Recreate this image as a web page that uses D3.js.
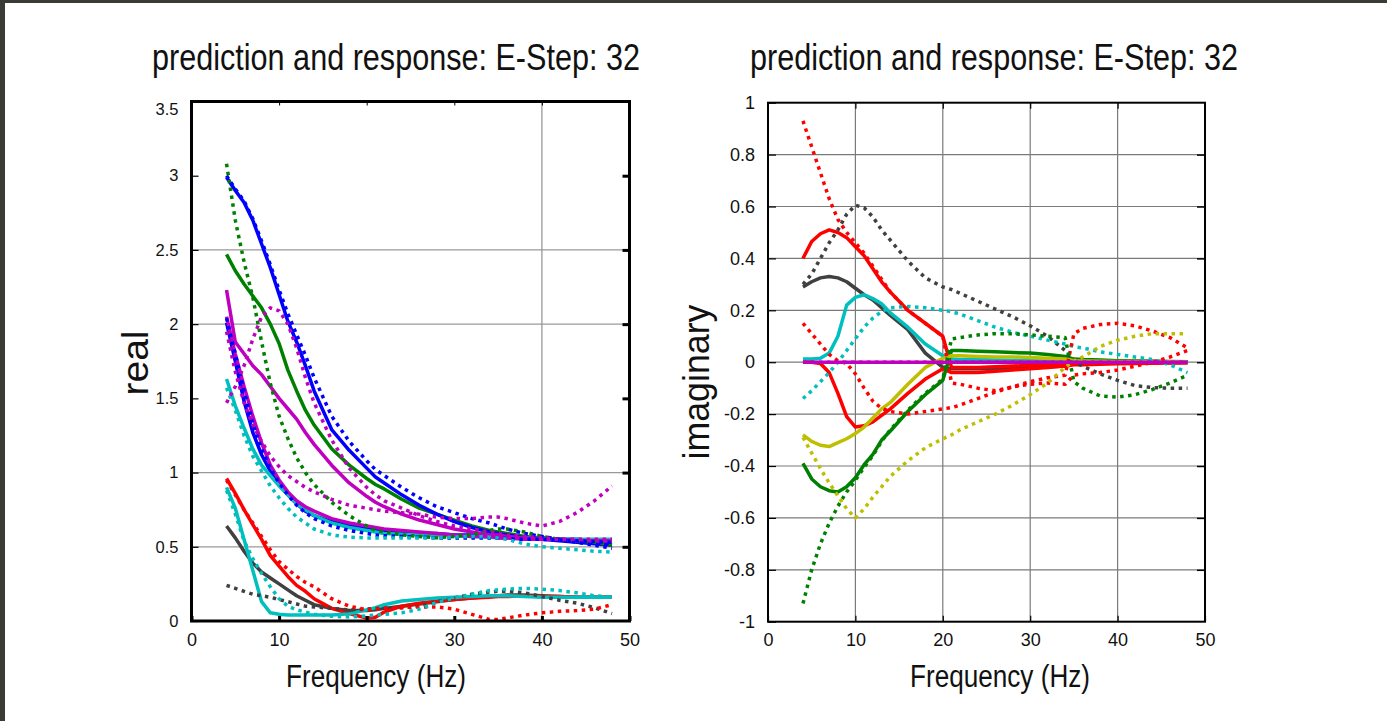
<!DOCTYPE html>
<html>
<head>
<meta charset="utf-8">
<script src="https://cdn.jsdelivr.net/npm/d3@7"></script>
<style>
  html, body { margin: 0; padding: 0; background: #fff; }
  svg { display: block; }
</style>
</head>
<body>
<svg id="fig" width="1387" height="721"></svg>
<script>
// Frequency samples (Hz) shared by every curve
const freq = [4,5,6,7,8,9,10,11,12,13,14,16,18,20,21,22,24,26,28,30,32,34,35,36,38,40,42,44,46,48];

// ---- real part: prediction (solid) and response (dotted) ----
const reBlueFitA  = [2.99,2.90,2.82,2.70,2.54,2.38,2.20,2.02,1.88,1.72,1.55,1.29,1.15,1.03,0.97,0.93,0.85,0.78,0.72,0.67,0.63,0.60,0.59,0.58,0.56,0.55,0.54,0.53,0.52,0.51];
const reBlueObsA  = [3.00,2.91,2.83,2.71,2.56,2.40,2.23,2.07,1.93,1.79,1.64,1.38,1.21,1.08,1.02,0.98,0.90,0.83,0.77,0.73,0.69,0.66,0.64,0.62,0.59,0.57,0.55,0.53,0.51,0.49];
const reGreenFit  = [2.47,2.36,2.27,2.19,2.11,2.00,1.87,1.69,1.55,1.42,1.32,1.16,1.05,0.96,0.92,0.89,0.82,0.76,0.72,0.68,0.64,0.61,0.60,0.59,0.57,0.56,0.55,0.54,0.53,0.52];
const reGreenObs  = [3.08,2.70,2.42,2.18,1.88,1.60,1.38,1.23,1.10,1.00,0.92,0.80,0.71,0.64,0.61,0.60,0.58,0.57,0.56,0.57,0.58,0.61,0.62,0.62,0.60,0.57,0.55,0.54,0.53,0.51];
const reMagFitA   = [2.23,1.88,1.80,1.72,1.66,1.58,1.50,1.43,1.36,1.27,1.19,1.05,0.93,0.84,0.80,0.77,0.72,0.68,0.65,0.62,0.60,0.58,0.58,0.57,0.56,0.55,0.55,0.54,0.54,0.54];
const reMagFitB   = [2.05,1.80,1.58,1.38,1.20,1.05,0.95,0.87,0.81,0.77,0.74,0.69,0.66,0.64,0.63,0.62,0.61,0.60,0.59,0.58,0.57,0.57,0.56,0.56,0.55,0.55,0.55,0.54,0.54,0.54];
const reMagObsA   = [1.47,1.58,1.72,1.90,2.05,2.11,2.09,2.00,1.84,1.64,1.47,1.22,1.03,0.90,0.85,0.81,0.76,0.71,0.67,0.64,0.62,0.60,0.59,0.58,0.57,0.56,0.55,0.55,0.55,0.55];
const reMagObsB   = [1.95,1.68,1.47,1.32,1.21,1.11,1.04,0.98,0.94,0.90,0.87,0.82,0.78,0.76,0.75,0.74,0.73,0.72,0.70,0.69,0.69,0.70,0.70,0.69,0.66,0.64,0.67,0.73,0.81,0.91];
const reCyanFitA  = [1.63,1.45,1.30,1.16,1.05,0.98,0.91,0.85,0.79,0.75,0.71,0.66,0.63,0.61,0.60,0.59,0.585,0.58,0.58,0.575,0.57,0.565,0.56,0.56,0.56,0.555,0.55,0.55,0.55,0.55];
const reCyanObsA  = [1.57,1.42,1.25,1.11,1.01,0.91,0.83,0.76,0.70,0.66,0.62,0.58,0.565,0.56,0.56,0.56,0.56,0.56,0.56,0.565,0.57,0.565,0.56,0.55,0.52,0.50,0.49,0.48,0.47,0.465];
const reBlueFitB  = [2.01,1.75,1.48,1.27,1.12,1.01,0.92,0.85,0.79,0.74,0.71,0.67,0.64,0.63,0.62,0.61,0.60,0.59,0.59,0.58,0.58,0.57,0.57,0.57,0.56,0.56,0.55,0.55,0.54,0.54];
const reBlueObsB  = [2.04,1.80,1.55,1.33,1.16,1.03,0.93,0.85,0.78,0.73,0.69,0.64,0.61,0.59,0.58,0.575,0.57,0.565,0.56,0.56,0.56,0.56,0.56,0.555,0.55,0.55,0.545,0.54,0.535,0.53];
const reRedFit    = [0.96,0.86,0.75,0.65,0.55,0.44,0.37,0.30,0.24,0.20,0.15,0.085,0.05,0.02,0.025,0.06,0.10,0.12,0.135,0.145,0.155,0.16,0.165,0.165,0.17,0.165,0.165,0.16,0.16,0.16];
const reRedObs    = [0.95,0.85,0.75,0.66,0.57,0.48,0.40,0.35,0.30,0.26,0.23,0.15,0.10,0.075,0.08,0.085,0.09,0.095,0.095,0.08,0.045,0.01,0.01,0.02,0.04,0.055,0.065,0.07,0.08,0.11];
const reDarkFit   = [0.64,0.56,0.47,0.39,0.33,0.29,0.25,0.21,0.17,0.14,0.11,0.085,0.07,0.07,0.075,0.085,0.10,0.115,0.13,0.145,0.155,0.165,0.17,0.175,0.175,0.17,0.165,0.16,0.16,0.16];
const reDarkObs   = [0.24,0.22,0.20,0.18,0.17,0.16,0.145,0.13,0.115,0.10,0.095,0.085,0.075,0.08,0.085,0.088,0.09,0.10,0.13,0.155,0.18,0.195,0.20,0.20,0.19,0.165,0.14,0.12,0.09,0.05];
const reCyanFitB  = [0.90,0.76,0.55,0.34,0.13,0.055,0.045,0.04,0.04,0.04,0.04,0.04,0.048,0.075,0.09,0.11,0.135,0.145,0.155,0.16,0.165,0.17,0.17,0.17,0.165,0.16,0.16,0.16,0.16,0.16];
const reCyanObsB  = [0.88,0.72,0.54,0.42,0.32,0.23,0.15,0.10,0.075,0.06,0.045,0.032,0.027,0.035,0.04,0.045,0.055,0.08,0.125,0.155,0.18,0.205,0.21,0.215,0.22,0.215,0.205,0.19,0.17,0.16];

// ---- imaginary part: prediction (solid) and response (dotted) ----
const imRedFitA   = [0.40,0.465,0.495,0.51,0.50,0.48,0.445,0.41,0.36,0.31,0.27,0.20,0.15,0.10,-0.02,-0.02,-0.02,-0.018,-0.015,-0.012,-0.01,-0.008,0.008,0.008,0.006,0.005,0.004,0.003,0.002,0.002];
const imRedObsA   = [0.93,0.83,0.73,0.63,0.55,0.50,0.46,0.42,0.37,0.32,0.27,0.20,0.15,0.10,-0.08,-0.085,-0.10,-0.11,-0.095,-0.075,-0.06,-0.05,0.11,0.13,0.145,0.15,0.14,0.12,0.095,0.055];
const imRedFitB   = [0.0,0.0,-0.005,-0.04,-0.12,-0.21,-0.25,-0.245,-0.23,-0.205,-0.18,-0.12,-0.065,-0.025,-0.04,-0.04,-0.04,-0.035,-0.03,-0.025,-0.02,-0.015,-0.01,-0.01,-0.008,-0.006,-0.005,-0.004,-0.003,-0.002];
const imRedObsB   = [0.15,0.11,0.07,0.03,0.005,-0.005,-0.045,-0.10,-0.15,-0.178,-0.19,-0.20,-0.19,-0.18,-0.175,-0.165,-0.14,-0.115,-0.095,-0.085,-0.08,-0.085,-0.05,-0.045,-0.04,-0.03,-0.015,0.0,0.02,0.045];
const imDarkFit   = [0.29,0.31,0.325,0.33,0.325,0.31,0.285,0.26,0.24,0.21,0.18,0.125,0.035,-0.02,-0.025,-0.025,-0.025,-0.025,-0.022,-0.02,-0.018,-0.015,-0.005,-0.005,-0.004,-0.003,-0.003,-0.002,-0.002,-0.002];
const imDarkObs   = [0.30,0.34,0.40,0.46,0.51,0.57,0.605,0.595,0.56,0.51,0.47,0.39,0.325,0.29,0.28,0.265,0.235,0.205,0.175,0.14,0.10,0.045,0.0,-0.015,-0.045,-0.07,-0.09,-0.098,-0.10,-0.10];
const imCyanFit   = [0.012,0.012,0.015,0.035,0.10,0.22,0.25,0.26,0.245,0.225,0.19,0.135,0.07,0.025,0.012,0.01,0.01,0.008,0.007,0.006,0.005,0.004,0.003,0.003,0.002,0.002,0.002,0.001,0.001,0.001];
const imCyanObs   = [-0.14,-0.11,-0.075,-0.04,0.0,0.045,0.09,0.135,0.17,0.195,0.21,0.215,0.21,0.20,0.195,0.185,0.16,0.135,0.115,0.10,0.085,0.07,0.06,0.055,0.04,0.03,0.02,0.01,-0.01,-0.04];
const imGreenFit  = [-0.39,-0.45,-0.48,-0.495,-0.50,-0.48,-0.445,-0.395,-0.355,-0.30,-0.265,-0.19,-0.125,-0.07,0.045,0.045,0.042,0.04,0.037,0.035,0.03,0.022,0.012,0.01,0.008,0.006,0.005,0.004,0.003,0.002];
const imGreenObs  = [-0.93,-0.80,-0.70,-0.62,-0.555,-0.50,-0.455,-0.405,-0.36,-0.305,-0.26,-0.185,-0.12,-0.065,0.09,0.095,0.105,0.11,0.11,0.105,0.10,0.095,-0.075,-0.10,-0.13,-0.135,-0.125,-0.105,-0.08,-0.05];
const imYellowFit = [-0.28,-0.305,-0.32,-0.325,-0.31,-0.295,-0.275,-0.25,-0.215,-0.18,-0.155,-0.085,-0.02,0.015,0.025,0.025,0.022,0.02,0.02,0.018,0.015,0.012,0.006,0.005,0.004,0.003,0.003,0.002,0.002,0.001];
const imYellowObs = [-0.29,-0.35,-0.41,-0.465,-0.515,-0.565,-0.60,-0.565,-0.52,-0.48,-0.44,-0.38,-0.33,-0.295,-0.28,-0.26,-0.23,-0.20,-0.165,-0.125,-0.08,-0.02,0.005,0.02,0.06,0.085,0.10,0.11,0.11,0.11];
const imMagFit    = [0,0,0,0,0,0,0,0,0,0,0,0,0,0,0,0,0,0,0,0,0,0,0,0,0,0,0,0,0,0];
const imMagObs    = [0,0,0,0,0,0,0,0,0,0,0,0,0,0,0,0,0,0,0,0,0,0,0,0,0,0,0,0,0,0];

// ---- tick values ----
const xTicks = [0,10,20,30,40,50];
const reTicks = [0,0.5,1,1.5,2,2.5,3,3.5];
const imTicks = [-1,-0.8,-0.6,-0.4,-0.2,0,0.2,0.4,0.6,0.8,1];
const reGridX = [40];
const reGridY = [0.5,1,2,2.5];
const imGridX = [10,20,30,40];
const imGridY = [-0.8,-0.6,-0.4,-0.2,0,0.2,0.4,0.6,0.8];

const COL = { b:'#0000ff', g:'#008000', r:'#ff0000', c:'#00bfbf', m:'#bf00bf', y:'#bfbf00', k:'#404040' };
const FONT = '"Liberation Sans Narrow", "Arial Narrow", "Liberation Sans", Arial, sans-serif';
const FONT_WIDE = '"Liberation Sans", Arial, sans-serif';

const svg = d3.select('#fig');
svg.append('rect').attr('width', 1387).attr('height', 721).attr('fill', '#fff');
// dark window edge
svg.append('rect').attr('x', 0).attr('y', 0).attr('width', 1387).attr('height', 3).attr('fill', '#3b3b35');
svg.append('rect').attr('x', 0).attr('y', 0).attr('width', 5).attr('height', 721).attr('fill', '#3b3b35');

function drawPanel(cfg) {
  const g = svg.append('g');
  const x = d3.scaleLinear().domain([0, 50]).range([cfg.left, cfg.right]);
  const y = d3.scaleLinear().domain(cfg.yDomain).range([cfg.bottom, cfg.top]);

  // grid
  g.append('g').selectAll('line').data(cfg.gridX).join('line')
    .attr('x1', d => x(d)).attr('x2', d => x(d))
    .attr('y1', cfg.top).attr('y2', cfg.bottom)
    .attr('stroke', cfg.gridColor).attr('stroke-width', cfg.gridWidth);
  g.append('g').selectAll('line').data(cfg.gridY).join('line')
    .attr('x1', cfg.left).attr('x2', cfg.right)
    .attr('y1', d => y(d)).attr('y2', d => y(d))
    .attr('stroke', cfg.gridColor).attr('stroke-width', cfg.gridWidth);

  // curves
  const line = d3.line().x((d, i) => x(freq[i])).y(d => y(d));
  g.append('g').selectAll('path').data(cfg.series).join('path')
    .attr('d', s => line(s.v))
    .attr('fill', 'none')
    .attr('stroke', s => s.c)
    .attr('stroke-width', 3.5)
    .attr('stroke-linejoin', 'round')
    .attr('stroke-dasharray', s => s.dot ? '3.5 4.5' : null);

  // axes
  const styleAxis = (sel, w) => {
    sel.select('.domain').remove();
    sel.selectAll('.tick line').attr('stroke', '#000').attr('stroke-width', w);
    sel.attr('font-family', FONT).selectAll('text').attr('fill', '#111');
  };
  const ax = cfg.axes;
  g.append('g').attr('transform', `translate(0,${cfg.bottom})`)
    .call(d3.axisBottom(x).tickValues(xTicks).tickFormat(String)
      .tickSizeInner(-ax.bottomLen).tickSizeOuter(0).tickPadding(12))
    .call(s => styleAxis(s, ax.bottomW))
    .attr('font-size', 18);
  g.append('g').attr('transform', `translate(0,${cfg.top})`)
    .call(d3.axisTop(x).tickValues(xTicks.slice(1, -1)).tickFormat('')
      .tickSizeInner(-ax.topLen).tickSizeOuter(0))
    .call(s => styleAxis(s, ax.topW));
  const yl = g.append('g').attr('transform', `translate(${cfg.left},0)`)
    .call(d3.axisLeft(y).tickValues(cfg.yTicks).tickFormat(String)
      .tickSizeInner(-ax.leftLen).tickSizeOuter(0).tickPadding(ax.labelPad))
    .call(s => styleAxis(s, ax.leftW))
    .attr('font-size', ax.yFont);
  if (cfg.topLabelShift) {
    yl.selectAll('.tick').filter(d => d === cfg.yDomain[1]).select('text').attr('y', cfg.topLabelShift);
  }
  g.append('g').attr('transform', `translate(${cfg.right},0)`)
    .call(d3.axisRight(y).tickValues(cfg.yTicks.slice(1, -1)).tickFormat('')
      .tickSizeInner(-ax.rightLen).tickSizeOuter(0))
    .call(s => styleAxis(s, ax.rightW));

  // box
  g.append('rect')
    .attr('x', cfg.left).attr('y', cfg.top)
    .attr('width', cfg.right - cfg.left).attr('height', cfg.bottom - cfg.top)
    .attr('fill', 'none').attr('stroke', '#000').attr('stroke-width', cfg.boxW);

  // title and axis labels
  g.append('text').attr('x', cfg.titleX).attr('y', 70)
    .attr('font-family', FONT).attr('font-size', 36).attr('fill', '#111')
    .attr('textLength', 488).attr('lengthAdjust', 'spacingAndGlyphs')
    .text('prediction and response: E-Step: 32');
  g.append('text').attr('x', cfg.xLabelX).attr('y', 687)
    .attr('text-anchor', 'middle')
    .attr('font-family', FONT).attr('font-size', 31).attr('fill', '#111')
    .attr('textLength', 180).attr('lengthAdjust', 'spacingAndGlyphs')
    .text('Frequency (Hz)');
  g.append('text')
    .attr('transform', `translate(${cfg.yLabel.x},${cfg.yLabel.y}) rotate(-90)`)
    .attr('text-anchor', 'middle')
    .attr('font-family', FONT_WIDE).attr('font-size', cfg.yLabel.size).attr('fill', '#111')
    .attr('textLength', cfg.yLabel.len).attr('lengthAdjust', 'spacingAndGlyphs')
    .text(cfg.yLabel.text);
}

drawPanel({
  left: 191.5, right: 629.5, top: 101.5, bottom: 621,
  yDomain: [0, 3.5], yTicks: reTicks,
  gridX: reGridX, gridY: reGridY, gridColor: '#999', gridWidth: 1.3,
  boxW: 3, topLabelShift: 8,
  axes: { bottomLen: 5, bottomW: 3, topLen: 4, topW: 1, leftLen: 7, leftW: 1.2,
          rightLen: 7, rightW: 3, labelPad: 13, yFont: 16.5 },
  titleX: 152, xLabelX: 376,
  yLabel: { x: 148, y: 363, size: 37, len: 65, text: 'real' },
  series: [
    { v: reDarkFit,   c: COL.k }, { v: reRedFit,   c: COL.r }, { v: reCyanFitB, c: COL.c },
    { v: reGreenFit,  c: COL.g }, { v: reBlueFitA, c: COL.b }, { v: reBlueFitB, c: COL.b },
    { v: reCyanFitA,  c: COL.c }, { v: reMagFitA,  c: COL.m }, { v: reMagFitB,  c: COL.m },
    { v: reDarkObs,   c: COL.k, dot: true }, { v: reRedObs,   c: COL.r, dot: true },
    { v: reCyanObsB,  c: COL.c, dot: true }, { v: reGreenObs, c: COL.g, dot: true },
    { v: reBlueObsA,  c: COL.b, dot: true }, { v: reBlueObsB, c: COL.b, dot: true },
    { v: reCyanObsA,  c: COL.c, dot: true }, { v: reMagObsA,  c: COL.m, dot: true },
    { v: reMagObsB,   c: COL.m, dot: true }
  ]
});

drawPanel({
  left: 768, right: 1205, top: 102.7, bottom: 621.7,
  yDomain: [-1, 1], yTicks: imTicks,
  gridX: imGridX, gridY: imGridY, gridColor: '#7a7a7a', gridWidth: 1.2,
  boxW: 2,
  axes: { bottomLen: 6, bottomW: 1.2, topLen: 6, topW: 1.2, leftLen: 8, leftW: 1.2,
          rightLen: 8, rightW: 1.5, labelPad: 13, yFont: 18 },
  titleX: 750, xLabelX: 1000,
  yLabel: { x: 709, y: 382, size: 36, len: 155, text: 'imaginary' },
  series: [
    { v: imDarkFit,   c: COL.k }, { v: imCyanFit,  c: COL.c }, { v: imRedFitA, c: COL.r },
    { v: imRedFitB,   c: COL.r }, { v: imGreenFit, c: COL.g }, { v: imYellowFit, c: COL.y },
    { v: imDarkObs,   c: COL.k, dot: true }, { v: imCyanObs,  c: COL.c, dot: true },
    { v: imRedObsA,   c: COL.r, dot: true }, { v: imRedObsB,  c: COL.r, dot: true },
    { v: imGreenObs,  c: COL.g, dot: true }, { v: imYellowObs, c: COL.y, dot: true },
    { v: imMagFit,    c: COL.m }, { v: imMagObs, c: COL.m, dot: true }
  ]
});
</script>
</body>
</html>
